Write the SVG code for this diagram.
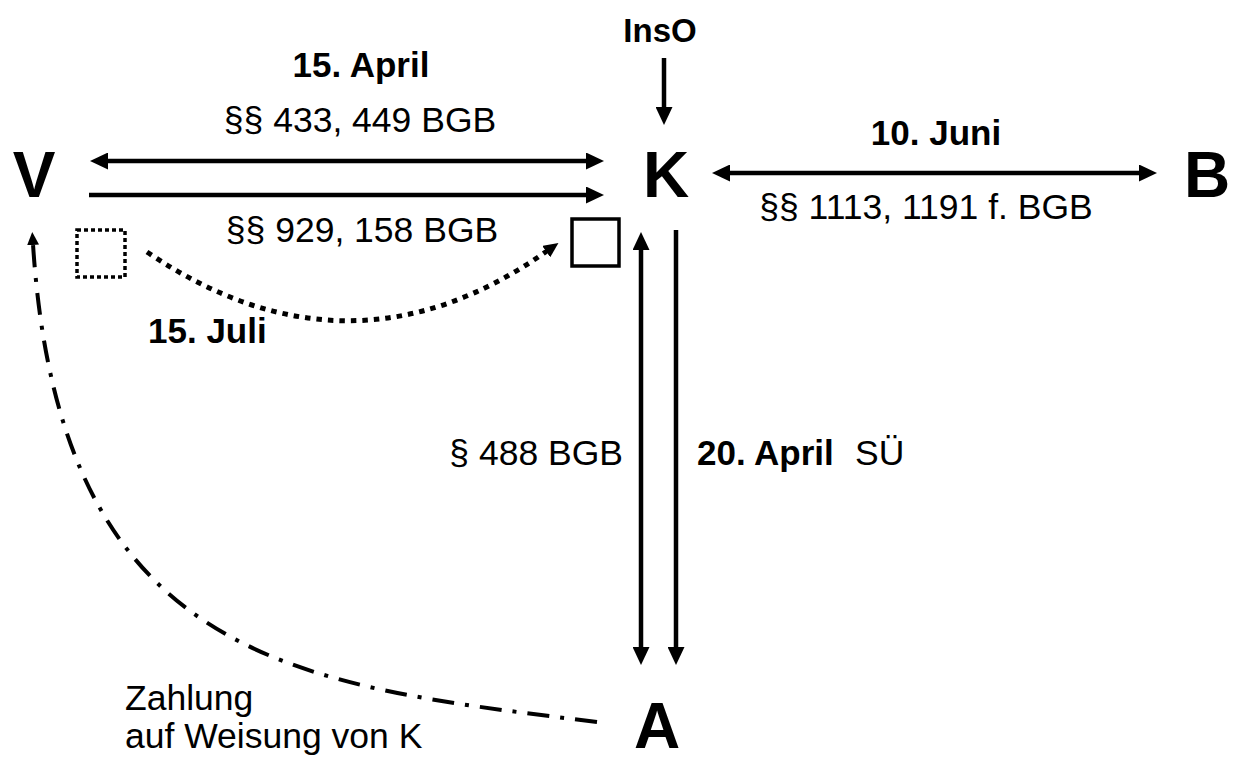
<svg xmlns="http://www.w3.org/2000/svg" width="1238" height="761" viewBox="0 0 1238 761">
<style>
text{font-family:"Liberation Sans",Arial,sans-serif;fill:#000}
.big{font-size:64px;font-weight:bold;text-anchor:middle}
.b{font-size:35px;font-weight:bold}
.r{font-size:35.5px}
.ln{stroke:#000;stroke-width:4.5;fill:none}
</style>
<defs>
<marker id="ah" viewBox="0 0 18 17" refX="1" refY="8.5" markerWidth="18" markerHeight="17" markerUnits="userSpaceOnUse" orient="auto-start-reverse"><path d="M0,0 L18,8.5 L0,17 z" fill="#000"/></marker>
<marker id="ahs" viewBox="0 0 15 14" refX="1" refY="7" markerWidth="15" markerHeight="14" markerUnits="userSpaceOnUse" orient="auto"><path d="M0,0 L15,7 L0,14 z" fill="#000"/></marker>
<marker id="aht" viewBox="0 0 13 12" refX="1" refY="6" markerWidth="13" markerHeight="12" markerUnits="userSpaceOnUse" orient="auto"><path d="M0,0 L13,6 L0,12 z" fill="#000"/></marker>
</defs>
<g id="node-V"><text class="big" x="34" y="197">V</text></g>
<g id="node-K"><text class="big" x="666" y="197">K</text></g>
<g id="node-B"><text class="big" x="1207" y="197">B</text></g>
<g id="node-A"><text class="big" x="657" y="748">A</text></g>
<g id="node-InsO"><text class="b" x="660" y="42" text-anchor="middle" style="font-size:33px">InsO</text></g>
<g id="node-box-dotted"><rect x="77" y="230" width="48" height="47" fill="none" stroke="#000" stroke-width="3.5" stroke-dasharray="4 3"/></g>
<g id="node-box"><rect x="572" y="219" width="47" height="47" fill="none" stroke="#000" stroke-width="3.5"/></g>
<g id="connectors">
<line class="ln" x1="107" y1="161" x2="587" y2="161" marker-start="url(#ah)" marker-end="url(#ah)"/>
<line class="ln" x1="89" y1="195" x2="587" y2="195" marker-end="url(#ah)"/>
<line class="ln" x1="729" y1="173" x2="1140" y2="173" marker-start="url(#ah)" marker-end="url(#ah)"/>
<line class="ln" x1="664" y1="58" x2="664" y2="108" marker-end="url(#ah)"/>
<line class="ln" x1="641" y1="249" x2="641" y2="648" marker-start="url(#ah)" marker-end="url(#ah)"/>
<line class="ln" x1="676" y1="230" x2="676" y2="648" marker-end="url(#ah)"/>
<path d="M147,252 Q350,390 547,251" fill="none" stroke="#000" stroke-width="5" stroke-dasharray="5.5 6" marker-end="url(#ahs)"/>
<path d="M597,722 C300,685 60,665 33,244" fill="none" stroke="#000" stroke-width="4" stroke-dasharray="22 11 4 11" marker-end="url(#aht)"/>
</g>
<g id="labels">
<text class="b" x="361" y="77" text-anchor="middle">15. April</text>
<text class="r" x="360" y="132" text-anchor="middle">§§ 433, 449 BGB</text>
<text class="r" x="362" y="242" text-anchor="middle">§§ 929, 158 BGB</text>
<text class="b" x="148" y="343">15. Juli</text>
<text class="b" x="936" y="145" text-anchor="middle">10. Juni</text>
<text class="r" x="926" y="219" text-anchor="middle">§§ 1113, 1191 f. BGB</text>
<text class="r" x="623" y="465" text-anchor="end">§ 488 BGB</text>
<text class="b" x="697" y="465">20. April</text>
<text class="r" x="855" y="465">SÜ</text>
<text class="r" x="125" y="710">Zahlung</text>
<text class="r" x="125" y="748">auf Weisung von K</text>
</g>
</svg>
